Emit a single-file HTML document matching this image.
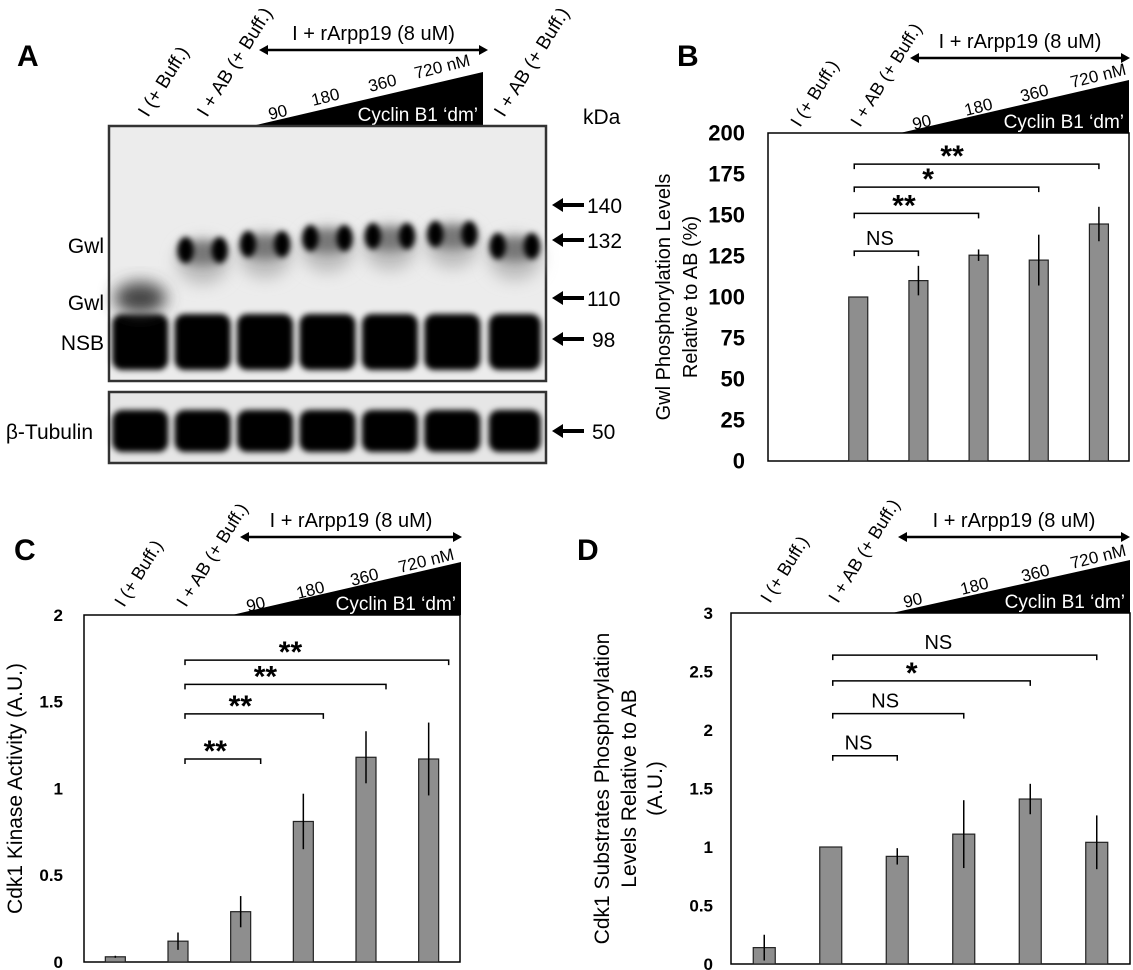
<!DOCTYPE html>
<html><head><meta charset="utf-8"><style>
html,body{margin:0;padding:0;background:#fff;}
svg{display:block;font-family:"Liberation Sans",Arial,sans-serif;}
</style></head><body>
<svg id="fig" width="1133" height="970" viewBox="0 0 1133 970" xmlns="http://www.w3.org/2000/svg">
<defs>
<filter id="b3" x="-50%" y="-50%" width="200%" height="200%"><feGaussianBlur stdDeviation="3"/></filter>
<filter id="b5" x="-50%" y="-50%" width="200%" height="200%"><feGaussianBlur stdDeviation="5"/></filter>
<filter id="b8" x="-50%" y="-50%" width="200%" height="200%"><feGaussianBlur stdDeviation="8"/></filter>
</defs>
<g id="blot"></g>
<g id="charts"></g>
</svg>
<script>
// ---- Panel B data ----
const bCats = ["I (+ Buff.)","I + AB (+ Buff.)","90","180","360","720"];
const bVals = [null,100,110,125.5,122.5,144.5];
const bErrs = [null,0,9,3.5,15.5,10.5];
const bTicks = [0,25,50,75,100,125,150,175,200];
const bSigTo = [2,3,4,5];
const bSigLevel = [128,151,167,181];
const bSigLabel = ["NS","**","*","**"];
// ---- Panel C data ----
const cCats = ["I (+ Buff.)","I + AB (+ Buff.)","90","180","360","720"];
const cVals = [0.03,0.12,0.29,0.81,1.18,1.17];
const cErrs = [0.006,0.05,0.09,0.16,0.15,0.21];
const cTicks = [0,0.5,1,1.5,2];
const cTickLabels = ["0","0.5","1","1.5","2"];
const cSigTo = [2,3,4,5];
const cSigLevel = [1.17,1.43,1.6,1.74];
const cSigLabel = ["**","**","**","**"];
// ---- Panel D data ----
const dCats = ["I (+ Buff.)","I + AB (+ Buff.)","90","180","360","720"];
const dVals = [0.14,1.0,0.92,1.11,1.41,1.04];
const dErrs = [0.11,0,0.07,0.29,0.13,0.23];
const dTicks = [0,0.5,1,1.5,2,2.5,3];
const dTickLabels = ["0","0.5","1","1.5","2","2.5","3"];
const dSigTo = [2,3,4,5];
const dSigLevel = [1.78,2.14,2.42,2.64];
const dSigLabel = ["NS","NS","*","NS"];

const NS="http://www.w3.org/2000/svg";
function mk(tag,attrs,parent,txt){const e=document.createElementNS(NS,tag);for(const k in attrs)e.setAttribute(k,attrs[k]);if(txt!==undefined)e.textContent=txt;parent.appendChild(e);return e;}

function header(g,o){
  const L=mk('text',{x:o.letterX,y:o.letterY,'font-size':30,'font-weight':'bold'},g,o.letter);
  
  
  o.labels.forEach((lb)=>{
    const t=mk('text',{x:lb[0],y:lb[1],'font-size':o.lfs,transform:`rotate(-58 ${lb[0]} ${lb[1]})`},g,lb[2]);
    
    
  });
  const a=mk('g',{},g);
  
  
  mk('line',{x1:o.ax1+6,y1:o.ay,x2:o.ax2-6,y2:o.ay,stroke:'#000','stroke-width':2.5},a);
  mk('polygon',{points:`${o.ax1},${o.ay} ${o.ax1+9},${o.ay-5} ${o.ax1+9},${o.ay+5}`,fill:'#000'},a);
  mk('polygon',{points:`${o.ax2},${o.ay} ${o.ax2-9},${o.ay-5} ${o.ax2-9},${o.ay+5}`,fill:'#000'},a);
  const at=mk('text',{x:(o.ax1+o.ax2)/2,y:o.ay-10,'font-size':o.afs,'text-anchor':'middle'},g,'I + rArpp19 (8 uM)');
  
  
  const tr=mk('polygon',{points:`${o.tx1},${o.ty1} ${o.tx2},${o.ty2} ${o.tx2},${o.ty1}`,fill:'#000'},g);
  
  
  const ct=mk('text',{x:o.tx2-5,y:o.ty1-5,'font-size':o.cfs,'text-anchor':'end',fill:'#fff'},g,'Cyclin B1 \u2018dm\u2019');
  
  
  o.nums.forEach(n=>{
    const t=mk('text',{x:n[0],y:n[1],'font-size':o.nfs,transform:`rotate(-14 ${n[0]} ${n[1]})`},g,n[2]);
    
    
  });
}

function chart(o){
  const g=mk('g',{},document.getElementById('charts'));
  
  
  const y=v=>o.y0+(v-o.vmin)/(o.vmax-o.vmin)*(o.y1-o.y0);
  const x=i=>o.x0+(i+0.5)*(o.x1-o.x0)/o.cats.length;
  header(g,o.h);
  const fr=mk('rect',{x:o.x0,y:o.y1,width:o.x1-o.x0,height:o.y0-o.y1,fill:'none',stroke:'#000','stroke-width':1.5},g);
  
  
  o.ticks.forEach((t,i)=>{
    const tl=mk('text',{x:o.tickX,y:y(t)+o.tfs*0.35,'font-size':o.tfs,'font-weight':'bold','text-anchor':'end'},g,o.tickLabels?o.tickLabels[i]:String(t));
    
    
  });
  const cy=(o.y0+o.y1)/2;
  o.ytitle.forEach((ln,i)=>{
    const tx=o.ytx[i];
    const t=mk('text',{x:tx,y:cy,'font-size':o.yfs,'text-anchor':'middle',transform:`rotate(-90 ${tx} ${cy})`},g,ln);
    
    
  });
  o.vals.forEach((v,i)=>{
    if(v===null)return;
    const r=mk('rect',{x:x(i)-o.bw/2,y:y(v),width:o.bw,height:y(0)-y(v),fill:'#8e8e8e',stroke:'#222','stroke-width':1.2},g);
    
    
    const e=o.errs[i];
    if(e>0){
      const l=mk('line',{x1:x(i),x2:x(i),y1:y(v+e),y2:y(v-e),stroke:'#000','stroke-width':1.5},g);
      
      
    }
  });
  o.sigTo.forEach((j,k)=>{
    const yy=y(o.sigLevel[k]);
    const xa=x(1)+o.sOff, xb=x(j)+o.eOff;
    const p=mk('path',{d:`M${xa},${yy+5}V${yy}H${xb}V${yy+5}`,fill:'none',stroke:'#000','stroke-width':1.5},g);
    
    
    const star=o.sigLabel[k]!=='NS';
    const t=mk('text',{x:(xa+xb)/2-(xb-xa)*0.1,y:star?yy+2:yy-6,'font-size':star?30:o.nsfs,'font-weight':star?'bold':'normal','text-anchor':'middle'},g,o.sigLabel[k]);
    
    
  });
}

chart({name:'chart-b-gwl-phosphorylation',cats:bCats,vals:bVals,errs:bErrs,ticks:bTicks,
  x0:768,x1:1129,y0:461,y1:133,vmin:0,vmax:200,bw:19,tickX:745,tfs:22,
  ytitle:['Gwl Phosphorylation Levels','Relative to AB (%)'],ytx:[670,697],yfs:20,
  sigTo:bSigTo,sigLevel:bSigLevel,sigLabel:bSigLabel,sOff:-4,eOff:0,nsfs:20,
  h:{letter:'B',letterX:677,letterY:66,lfs:18,
    labels:[[800,128,'I (+ Buff.)'],[860,128,'I + AB (+ Buff.)']],
    ax1:910,ax2:1130,ay:58,afs:20,tx1:900,ty1:133,tx2:1129,ty2:80,cfs:19,nfs:17,
    nums:[[914,130,'90'],[966,116,'180'],[1022,102,'360'],[1072,88,'720 nM']]}});

chart({name:'chart-c-cdk1-kinase',cats:cCats,vals:cVals,errs:cErrs,ticks:cTicks,tickLabels:cTickLabels,
  x0:84,x1:460,y0:962,y1:615,vmin:0,vmax:2,bw:20,tickX:63,tfs:17,
  ytitle:['Cdk1 Kinase Activity (A.U.)'],ytx:[22],yfs:21,
  sigTo:cSigTo,sigLevel:cSigLevel,sigLabel:cSigLabel,sOff:7,eOff:20,nsfs:20,
  h:{letter:'C',letterX:14,letterY:560,lfs:18,
    labels:[[124,608,'I (+ Buff.)'],[186,608,'I + AB (+ Buff.)']],
    ax1:240,ax2:462,ay:537,afs:20,tx1:232,ty1:615,tx2:461,ty2:562,cfs:19,nfs:17,
    nums:[[248,612,'90'],[298,599,'180'],[352,586,'360'],[400,573,'720 nM']]}});

chart({name:'chart-d-cdk1-substrates',cats:dCats,vals:dVals,errs:dErrs,ticks:dTicks,tickLabels:dTickLabels,
  x0:731,x1:1130,y0:964,y1:613,vmin:0,vmax:3,bw:22,tickX:713,tfs:17,
  ytitle:['Cdk1 Substrates Phosphorylation','Levels Relative to AB','(A.U.)'],ytx:[609,636,662],yfs:21,
  sigTo:dSigTo,sigLevel:dSigLevel,sigLabel:dSigLabel,sOff:2,eOff:0,nsfs:20,
  h:{letter:'D',letterX:577,letterY:560,lfs:18,
    labels:[[770,604,'I (+ Buff.)'],[838,604,'I + AB (+ Buff.)']],
    ax1:898,ax2:1130,ay:537,afs:20,tx1:892,ty1:613,tx2:1130,ty2:560,cfs:19,nfs:17,
    nums:[[905,608,'90'],[962,595,'180'],[1023,582,'360'],[1072,569,'720 nM']]}});

// ---- Panel A blot ----
const laneNames=["I (+ Buff.)","I + AB (+ Buff.)","90","180","360","720","I + AB (+ Buff.)"];
const gwlUpperY=[null,250,244,238,236,234,246];
(function(){
  const g=document.getElementById('blot');
  const X0=109,X1=546,lw=(X1-X0)/7;
  const cx=i=>X0+lw*(i+0.5);
  header(g,{letter:'A',letterX:17,letterY:66,lfs:19,
    labels:[[148,118,'I (+ Buff.)'],[207,118,'I + AB (+ Buff.)'],[504,118,'I + AB (+ Buff.)']],
    ax1:259,ax2:488,ay:50,afs:20,tx1:252,ty1:126,tx2:483,ty2:72,cfs:19,nfs:17,
    nums:[[270,120,'90'],[313,106,'180'],[370,92,'360'],[416,79,'720 nM']]});
  mk('rect',{x:X0,y:126,width:X1-X0,height:255,fill:'#ececec',stroke:'#333','stroke-width':2.5},g);
  mk('rect',{x:X0,y:392,width:X1-X0,height:71,fill:'#e6e6e6',stroke:'#333','stroke-width':2.5},g);
  const bands=mk('g',{},g);
  for(let i=0;i<7;i++){
    const c=cx(i),w=i==6?52:56;
    mk('rect',{x:c-w/2,y:314,width:w,height:56,rx:10,fill:'#000',filter:'url(#b3)'},bands);
    mk('rect',{x:c-w/2,y:410,width:w,height:42,rx:10,fill:'#000',filter:'url(#b3)'},bands);
    if(i==0){
      mk('ellipse',{cx:c,cy:298,rx:26,ry:16,fill:'#444',filter:'url(#b8)'},bands);
    } else {
      const yy=gwlUpperY[i];
      mk('ellipse',{cx:c,cy:yy+12,rx:26,ry:22,fill:'#bbb',filter:'url(#b8)'},bands);
      mk('ellipse',{cx:c,cy:yy+3,rx:24,ry:12,fill:'#777',filter:'url(#b5)'},bands);
      mk('ellipse',{cx:c-17,cy:yy,rx:8,ry:13,fill:'#000',filter:'url(#b3)'},bands);
      mk('ellipse',{cx:c+17,cy:yy,rx:8,ry:13,fill:'#000',filter:'url(#b3)'},bands);
    }
  }
  const left=[[104,253,'Gwl'],[104,310,'Gwl'],[104,350,'NSB'],[93,439,'\u03B2-Tubulin']];
  left.forEach(l=>{
    const t=mk('text',{x:l[0],y:l[1],'font-size':21,'text-anchor':'end'},g,l[2]);
    
    
  });
  const kd=mk('text',{x:583,y:124,'font-size':21},g,'kDa');
  
  
  [[205,'140'],[240,'132'],[298,'110'],[339,'98'],[431,'50']].forEach(m=>{
    const yy=m[0];
    const a=mk('g',{},g);
    
    
    mk('line',{x1:560,y1:yy,x2:584,y2:yy,stroke:'#000','stroke-width':4},a);
    mk('polygon',{points:`552,${yy} 563,${yy-7} 563,${yy+7}`,fill:'#000'},a);
    const t=mk('text',{x:m[1].length==2?592:587,y:yy+8,'font-size':21},g,m[1]);
    
    
  });
})();
</script>
</body></html>
